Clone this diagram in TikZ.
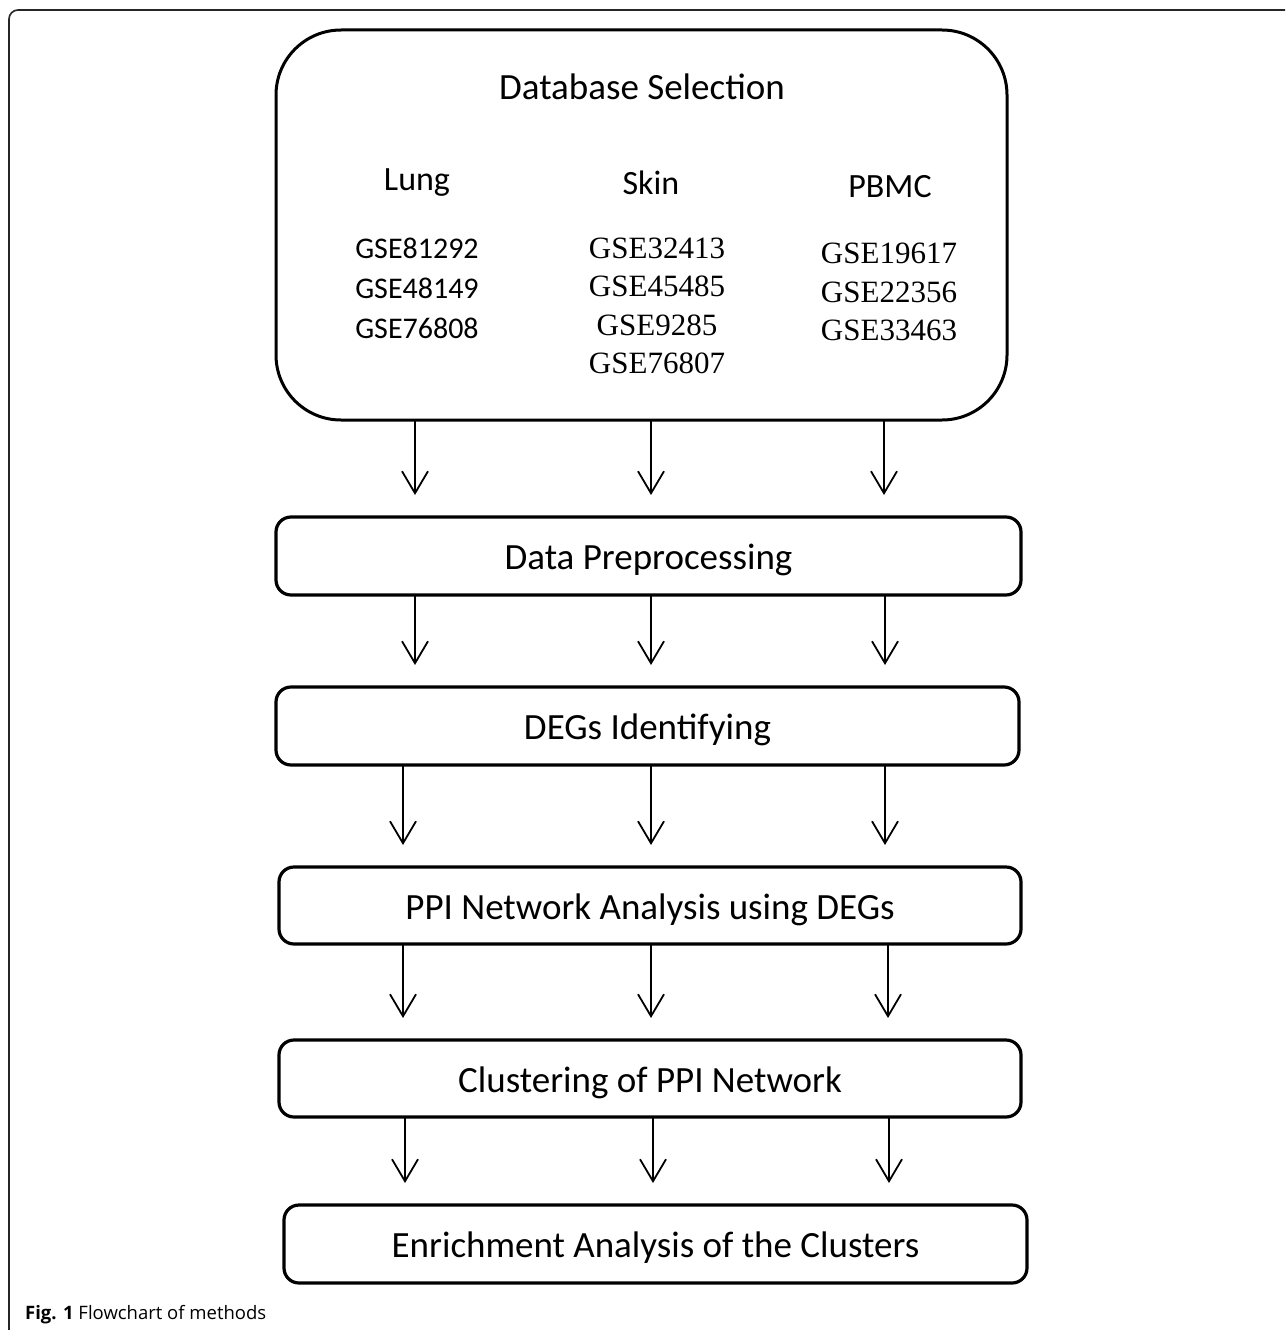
\documentclass[tikz,border=0pt]{standalone}
\usepackage{fontspec}
\setmainfont{Carlito}
\newfontfamily\tms{Liberation Serif}
\newfontfamily\capfont{Open Sans}
\usetikzlibrary{arrows.meta}
\newcommand{\lowr}[1]{\raisebox{-4pt}[\height][\depth]{#1}}
\tikzset{
  stepbox/.style={draw, line width=3.2pt, rounded corners=15pt, outer sep=0pt,
    inner sep=0pt, font=\fontsize{37}{42}\selectfont},
  bigbox/.style={draw, line width=3pt, rounded corners=65pt, outer sep=0pt, inner sep=0pt},
  arr/.style={line width=1.8pt, -{Straight Barb[length=22pt,width=26pt,line width=1.8pt]}},
  txt/.style={inner sep=0pt, align=center},
  head/.style={txt, font=\fontsize{37}{42}\selectfont},
  sub/.style={txt, font=\fontsize{34}{40}\selectfont},
  gsecal/.style={txt, font=\fontsize{30}{40}\selectfont},
  gsetms/.style={txt, font=\tms\fontsize{31}{38.5}\selectfont},
}
\begin{document}
\begin{tikzpicture}[x=1pt,y=-1pt]
\useasboundingbox (0,0) rectangle (1285,1330);
\fill[white] (0,0) rectangle (1285,1330);
% outer frame
\draw[line width=1.6pt, black!85, rounded corners=9pt] (9,1330) -- (9,10) -- (1285,10);

% top box
\node[bigbox, minimum width=731pt, minimum height=390pt] (db) at (641.5,225) {};
\node[head] (dbt) at (642,87) {Database Selection};
\node[sub] (lung) at (417,183) {Lung};
\node[sub] (skin) at (651,183) {Skin};
\node[sub] (pbmc) at (890,187) {PBMC};
\node[gsecal] (lungg) at (417,288) {GSE81292\\GSE48149\\GSE76808};
\node[gsetms] (sking) at (657,306) {GSE32413\\GSE45485\\GSE9285\\GSE76807};
\node[gsetms] (pbmcg) at (889,292) {GSE19617\\GSE22356\\GSE33463};

% step boxes
\node[stepbox, minimum width=745pt, minimum height=78pt] (dp) at (648.5,556) {\lowr{Data Preprocessing}};
\node[stepbox, minimum width=743pt, minimum height=78pt] (dg) at (647.5,726) {\lowr{DEGs Identifying}};
\node[stepbox, minimum width=742pt, minimum height=77pt] (ppi) at (650,905.5) {\lowr{PPI Network Analysis using DEGs}};
\node[stepbox, minimum width=742pt, minimum height=77pt] (cl) at (650,1078.5) {\lowr{Clustering of PPI Network}};
\node[stepbox, minimum width=743pt, minimum height=78pt] (en) at (655.5,1244) {\lowr{Enrichment Analysis of the Clusters}};

% arrow columns
\foreach \a/\b/\x in {db/dp/415, db/dp/651, db/dp/884,
                      dp/dg/415, dp/dg/651, dp/dg/885,
                      dg/ppi/403, dg/ppi/651, dg/ppi/885,
                      ppi/cl/403, ppi/cl/651, ppi/cl/888,
                      cl/en/405, cl/en/653, cl/en/889}{
  \coordinate (c) at (\x,0);
  \draw[arr] (\a.south -| c) -- ([yshift=22pt]\b.north -| c);
}

% caption
\node[anchor=base west, inner sep=0pt, font=\capfont\fontsize{18.5}{20}\selectfont] (cap) at (25,1319)
  {\textbf{Fig. 1} Flowchart of methods};
\end{tikzpicture}
\end{document}
